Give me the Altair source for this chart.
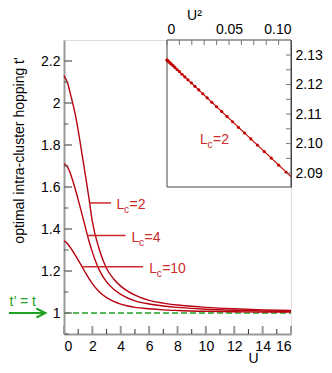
import altair as alt
import pandas as pd

# ---------------- data ----------------
U = [0, 0.25, 0.5, 0.75, 1.0, 1.25, 1.5, 1.75, 2.0, 2.5, 3.0, 3.5, 4.0,
     5.0, 6.0, 7.0, 8.0, 10.0, 12.0, 14.0, 16.0]
t_L2 = [2.13, 2.095, 2.03, 1.96, 1.87, 1.765, 1.66, 1.55, 1.435, 1.30, 1.212,
        1.162, 1.128, 1.085, 1.06, 1.047, 1.038, 1.027, 1.02, 1.015, 1.012]
t_L4 = [1.71, 1.695, 1.655, 1.60, 1.54, 1.475, 1.41, 1.345, 1.29, 1.203, 1.148,
        1.113, 1.089, 1.058, 1.043, 1.033, 1.027, 1.018, 1.013, 1.01, 1.008]
t_L10 = [1.344, 1.33, 1.307, 1.28, 1.252, 1.223, 1.193, 1.165, 1.14, 1.10, 1.073,
         1.055, 1.042, 1.027, 1.02, 1.015, 1.012, 1.008, 1.006, 1.005, 1.004]

# inset: U^2 vs t' for Lc=2
U2_pts = [0, 0.0001, 0.0004, 0.0009, 0.0016, 0.0025, 0.0036, 0.0049, 0.0064,
          0.0081, 0.01, 0.0121, 0.0144, 0.0169, 0.0196, 0.0225, 0.0256, 0.0289,
          0.0324, 0.0361, 0.04, 0.0441, 0.0484, 0.0529, 0.0576, 0.0625, 0.0676,
          0.0729, 0.0784, 0.0841, 0.09, 0.0961]
t_pts = [2.1283, 2.1283, 2.1281, 2.1279, 2.1277, 2.1273, 2.1269, 2.1264, 2.1258,
         2.1251, 2.1244, 2.1235, 2.1226, 2.1216, 2.1206, 2.1194, 2.1182, 2.1169,
         2.1155, 2.1140, 2.1125, 2.1109, 2.1092, 2.1074, 2.1055, 2.1036, 2.1016,
         2.0995, 2.0973, 2.0951, 2.0927, 2.0903]
U2_line = [0, 0.1]
t_line = [2.1283, 2.0888]

# labels
lab_names = ["2", "4", "10"]
lab_U = [3.70, 4.76, 6.0]
lab_t = [1.494, 1.3395, 1.19]
lead_U0 = [1.79, 1.63, 1.31]
lead_U1 = [3.31, 4.34, 5.57]
lead_t = [1.524, 1.3695, 1.2205]

x_major = [0, 2, 4, 6, 8, 10, 12, 14, 16]
x_minor = [1, 3, 5, 7, 9, 11, 13, 15]
y_major = [1.0, 1.2, 1.4, 1.6, 1.8, 2.0, 2.2]
y_minor = [0.9, 1.1, 1.3, 1.5, 1.7, 1.9, 2.1]
ix_ticks = [0, 0.01, 0.02, 0.03, 0.04, 0.05, 0.06, 0.07, 0.08, 0.09, 0.1]
ix_labels = [0, 0.05, 0.1]
iy_ticks = [2.09, 2.095, 2.10, 2.105, 2.11, 2.115, 2.12, 2.125, 2.13]
iy_labels = [2.09, 2.10, 2.11, 2.12, 2.13]

FONT = "Liberation Sans"
W, H = 227, 294
IX0 = 103
IH = 147
CURVE = "#b8000f"
LAB = "#cc2a2a"
GREEN = "#22a022"

# ---------------- scales / axes ----------------
xs = alt.Scale(domain=[0, 16], nice=False, zero=False, padding=0)
ys = alt.Scale(domain=[0.9, 2.3], nice=False, zero=False, padding=0)
ax_x = alt.Axis(values=x_major, format="d", ticks=False, grid=False,
                domainColor="#999999", domainWidth=2, labelFontSize=14,
                labelFont=FONT, labelColor="black", labelPadding=5,
                title="U", titleFont=FONT, titleFontSize=14, titleFontWeight="normal",
                titleX=189, titleY=28, titleBaseline="alphabetic", titleAlign="center")
ax_y = alt.Axis(values=y_major, format="~g", ticks=False, grid=False,
                domainColor="#999999", domainWidth=2, labelFontSize=14,
                labelFont=FONT, labelColor="black", labelPadding=4,
                title="optimal intra-cluster hopping  t'", titleFont=FONT,
                titleFontSize=14, titleFontWeight="normal", titleX=-41, titleY=110,
                titleAngle=270, titleBaseline="alphabetic", titleAlign="center")


def MX(f):
    return alt.X(f, type="quantitative", scale=xs, axis=ax_x)


def MY(f):
    return alt.Y(f, type="quantitative", scale=ys, axis=ax_y)


ixs = alt.Scale(domain=[0, 0.1], range=[IX0, W], nice=False, zero=False, padding=0)
iys = alt.Scale(domain=[2.0853, 2.1351], range=[IH, 0], nice=False, zero=False, padding=0)
iax_x = alt.Axis(orient="top", values=ix_labels, ticks=False, grid=False,
                 labelExpr="datum.value == 0 ? '0' : format(datum.value, '.2f')",
                 domainColor="#444444", domainWidth=1, labelFontSize=14, labelFont=FONT,
                 labelColor="black", labelPadding=4, title="U²", titleFont=FONT,
                 titleFontSize=14, titleFontWeight="normal", titleX=130, titleY=-21,
                 titleBaseline="alphabetic", titleAlign="center")
iax_y = alt.Axis(orient="right", values=iy_labels, format=".2f", ticks=False, grid=False,
                 domainColor="#444444", domainWidth=1, labelFontSize=14, labelFont=FONT,
                 labelColor="black", labelPadding=4, title=None)


def IX(f):
    return alt.X(f, type="quantitative", scale=ixs, axis=iax_x)


def IY(f):
    return alt.Y(f, type="quantitative", scale=iys, axis=iax_y)


# ---------------- main panel ----------------
curves = pd.DataFrame({
    "U": U * 3,
    "t": t_L2 + t_L4 + t_L10,
    "Lc": ["2"] * len(U) + ["4"] * len(U) + ["10"] * len(U),
})
curve_layer = alt.Chart(curves).mark_line(color=CURVE, strokeWidth=1.4,
                                          interpolate="monotone").encode(
    x=MX("U"), y=MY("t"), detail="Lc:N")

dash_df = pd.DataFrame({"U": [0, 16], "t": [1.0, 1.0]})
dash_layer = alt.Chart(dash_df).mark_line(color=GREEN, strokeWidth=1.5,
                                          strokeDash=[6, 3]).encode(x=MX("U"), y=MY("t"))

labs = pd.DataFrame({"name": lab_names, "U": lab_U, "t": lab_t, "u0": lead_U0,
                     "u1": lead_U1, "tl": lead_t})
lead_layer = alt.Chart(labs).mark_rule(color=LAB, strokeWidth=1.5).encode(
    x=MX("u0"), x2="u1", y=MY("tl"))
L_layer = alt.Chart(labs).mark_text(text="L", color=LAB, font=FONT, fontSize=14,
                                    align="left", baseline="alphabetic").encode(
    x=MX("U"), y=MY("t"))
c_layer = alt.Chart(labs).mark_text(text="c", color=LAB, font=FONT, fontSize=10,
                                    align="left", baseline="alphabetic", dx=7.5, dy=4).encode(
    x=MX("U"), y=MY("t"))
eq_layer = alt.Chart(labs).transform_calculate(lbl="'=' + datum.name").mark_text(
    color=LAB, font=FONT, fontSize=14, align="left", baseline="alphabetic", dx=13).encode(
    x=MX("U"), y=MY("t"), text="lbl:N")

arrow_df = pd.DataFrame({"a0": [-3.88], "a1": [-1.31], "t": [1.0], "tx": [-3.84], "tt": [1.035]})
arrow_line = alt.Chart(arrow_df).mark_rule(color=GREEN, strokeWidth=2).encode(
    x=MX("a0"), x2="a1", y=MY("t"))
arrow_head = alt.Chart(arrow_df).mark_point(shape="M -1 -0.5 L 0 0 L -1 0.5", filled=False,
                                            color=GREEN, strokeWidth=2, size=324,
                                            opacity=1).encode(x=MX("a1"), y=MY("t"))
green_text = alt.Chart(arrow_df).mark_text(text="t’ = t", color=GREEN, font=FONT,
                                           fontSize=14, align="left",
                                           baseline="alphabetic").encode(x=MX("tx"), y=MY("tt"))

ym_df = pd.DataFrame({"v": y_major})
yn_df = pd.DataFrame({"v": y_minor})
xm_df = pd.DataFrame({"v": x_major})
xn_df = pd.DataFrame({"v": x_minor})
ytick_major = alt.Chart(ym_df).mark_rule(color="#777777", strokeWidth=1.5).encode(
    y=MY("v"), x=alt.value(0), x2=alt.value(8))
ytick_minor = alt.Chart(yn_df).mark_rule(color="#555555", strokeWidth=1).encode(
    y=MY("v"), x=alt.value(0), x2=alt.value(4.5))
xtick_major = alt.Chart(xm_df).mark_rule(color="#999999", strokeWidth=2).encode(
    x=MX("v"), y=alt.value(H), y2=alt.value(H - 8))
xtick_minor = alt.Chart(xn_df).mark_rule(color="#333333", strokeWidth=1).encode(
    x=MX("v"), y=alt.value(H), y2=alt.value(H - 5))

main = alt.layer(dash_layer, curve_layer, lead_layer, L_layer, c_layer, eq_layer,
                 arrow_line, arrow_head, green_text,
                 ytick_major, ytick_minor, xtick_major, xtick_minor)

# ---------------- inset ----------------
frame_df = pd.DataFrame({"x0": [0.0], "x1": [0.1], "y0": [2.0853], "y1": [2.1351]})
frame = alt.Chart(frame_df).mark_rect(fill="white", stroke="#444444", strokeWidth=1).encode(
    x=IX("x0"), x2="x1", y=IY("y0"), y2="y1")
iline = alt.Chart(pd.DataFrame({"U2": U2_line, "t": t_line})).mark_line(
    color="#c00000", strokeWidth=1.2).encode(x=IX("U2"), y=IY("t"))
ipts = alt.Chart(pd.DataFrame({"U2": U2_pts, "t": t_pts})).mark_circle(
    color="#c00000", size=10, opacity=1).encode(x=IX("U2"), y=IY("t"))

ilab_df = pd.DataFrame({"x": [0.0267], "y": [2.0999]})
iL = alt.Chart(ilab_df).mark_text(text="L", color=LAB, font=FONT, fontSize=14,
                                  align="left", baseline="alphabetic").encode(x=IX("x"), y=IY("y"))
ic = alt.Chart(ilab_df).mark_text(text="c", color=LAB, font=FONT, fontSize=10,
                                  align="left", baseline="alphabetic", dx=7.5, dy=4).encode(
    x=IX("x"), y=IY("y"))
ieq = alt.Chart(ilab_df).mark_text(text="=2", color=LAB, font=FONT, fontSize=14,
                                   align="left", baseline="alphabetic", dx=13).encode(
    x=IX("x"), y=IY("y"))

ixt_df = pd.DataFrame({"v": ix_ticks})
iyt_df = pd.DataFrame({"v": iy_ticks})
ixt = alt.Chart(ixt_df).mark_rule(color="#777777", strokeWidth=1).encode(
    x=IX("v"), y=alt.value(0), y2=alt.value(5))
iyt = alt.Chart(iyt_df).mark_rule(color="#777777", strokeWidth=1).encode(
    y=IY("v"), x=alt.value(W), x2=alt.value(W - 5))

inset = alt.layer(frame, iline, ipts, iL, ic, ieq, ixt, iyt)

chart = alt.layer(main, inset).resolve_scale(
    x="independent", y="independent").resolve_axis(
    x="independent", y="independent").properties(
    width=W, height=H,
    autosize=alt.AutoSizeParams(type="none"),
    padding={"left": 56, "top": 32, "right": 33, "bottom": 31},
).configure_view(stroke="#444444", strokeWidth=1).configure(background="white")

chart.save("out.html", embed_options={"renderer": "svg", "actions": False})
